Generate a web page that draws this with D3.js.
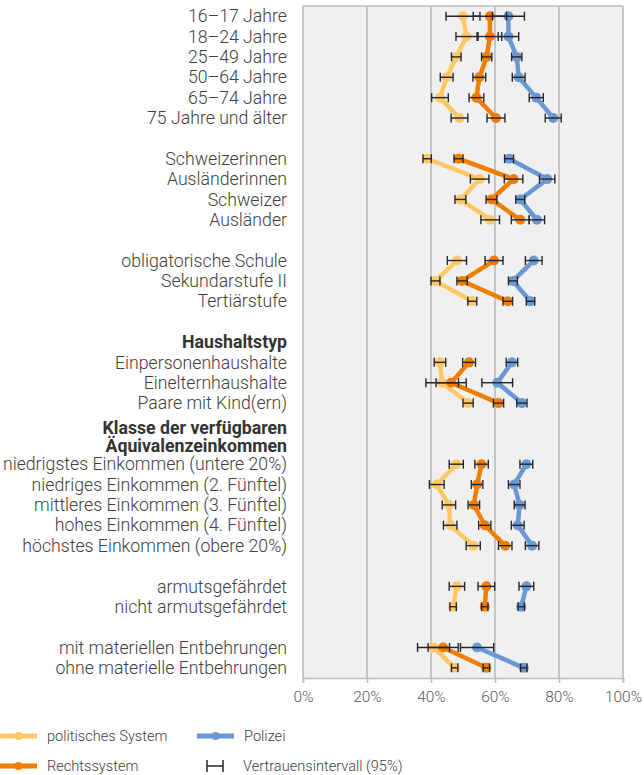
<!DOCTYPE html>
<html><head><meta charset="utf-8">
<script src="https://cdn.jsdelivr.net/npm/d3@7"></script>
<style>
body{margin:0;background:#fff;}
text{font-family:Roboto,"Noto Sans",sans-serif;}
</style></head>
<body><svg id="c" width="644" height="775"></svg>
<script>
// ---- data ----
const categories = [
 "16–17 Jahre","18–24 Jahre","25–49 Jahre","50–64 Jahre","65–74 Jahre","75 Jahre und älter","",
 "Schweizerinnen","Ausländerinnen","Schweizer","Ausländer","",
 "obligatorische Schule","Sekundarstufe II","Tertiärstufe","",
 "#Haushaltstyp","Einpersonenhaushalte","Einelternhaushalte","Paare mit Kind(ern)",
 "#Klasse der verfügbaren|Äquivalenzeinkommen","",
 "niedrigstes Einkommen (untere 20%)","niedriges Einkommen (2. Fünftel)","mittleres Einkommen (3. Fünftel)","hohes Einkommen (4. Fünftel)","höchstes Einkommen (obere 20%)","",
 "armutsgefährdet","nicht armutsgefährdet","",
 "mit materiellen Entbehrungen","ohne materielle Entbehrungen"];
const politischesSystem = [50.0,51.1,47.9,44.9,42.8,48.9,null, 38.8,55.2,49.2,58.5,null, 48.1,41.4,52.9,null, null,42.8,43.5,51.6, null,null, 47.9,41.8,45.6,46.0,53.2,null, 48.1,46.9,null, 40.8,47.4];
const politischesCI     = [5.3,3.3,1.5,2.0,2.6,2.6,null, 1.3,2.9,1.7,2.9,null, 3.0,1.4,1.4,null, null,1.8,5.1,1.6, null,null, 2.2,2.3,2.1,2.1,2.2,null, 2.4,1.0,null, 5.0,1.0];
const rechtssystem      = [58.4,58.4,57.4,55.1,54.2,60.3,null, 48.6,65.8,58.9,67.9,null, 59.7,49.7,64.0,null, null,51.9,46.3,61.1, null,null, 55.8,54.4,53.4,56.8,63.2,null, 57.3,56.8,null, 43.8,57.3];
const rechtssystemCI    = [5.2,3.7,1.6,2.0,2.3,2.8,null, 1.4,2.9,1.7,2.8,null, 2.8,1.6,1.5,null, null,2.0,4.7,1.6, null,null, 2.1,1.8,1.8,1.9,2.1,null, 2.6,1.0,null, 4.7,1.0];
const polizei           = [64.2,64.2,66.8,67.4,72.9,78.2,null, 64.4,76.3,67.9,73.1,null, 72.1,65.6,71.1,null, null,65.3,60.7,68.4, null,null, 69.8,66.0,67.7,67.1,71.6,null, 69.8,68.2,null, 54.4,69.0];
const polizeiCI         = [5.0,3.2,1.6,2.0,2.2,2.5,null, 1.4,2.4,1.4,2.4,null, 2.6,1.4,1.3,null, null,1.8,4.8,1.6, null,null, 2.0,1.8,1.7,2.0,2.1,null, 2.3,1.0,null, 5.2,1.0];
const xTicks = [0,20,40,60,80,100];
const seriesNames = ["politisches System","Rechtssystem","Polizei"];
const seriesColors = ["#FFC866","#EF7D00","#6A98D3"];
const ciLabel = "Vertrauensintervall (95%)";

// ---- chart ----
const svg = d3.select("#c");
const m = {left:303, right:623, top:6, bottom:678};
const x = d3.scaleLinear().domain([0,100]).range([m.left, m.right]);
const rowKeys = categories.map((c,i)=>i);
const y = d3.scaleBand().domain(rowKeys).range([m.top, m.bottom]);
const yc = i => y(i) + y.bandwidth()/2;
const LABEL_FS = 17.7;
const LEG_FS = 14.6;

svg.append("rect").attr("x",m.left).attr("y",m.top).attr("width",m.right-m.left).attr("height",m.bottom-m.top).attr("fill","#F0F0F0");
svg.append("g").selectAll("line").data(xTicks).join("line")
  .attr("x1",d=>x(d)).attr("x2",d=>x(d)).attr("y1",m.top).attr("y2",m.bottom)
  .attr("stroke","#BBBBBB").attr("stroke-width",1.6);
svg.append("line").attr("x1",m.left).attr("x2",m.right).attr("y1",m.top).attr("y2",m.top).attr("stroke","#BBBBBB").attr("stroke-width",1.6);

const xAxis = svg.append("g").attr("transform",`translate(0,${m.bottom})`)
  .call(d3.axisBottom(x).tickValues(xTicks).tickFormat(d=>d+"%").tickSize(5).tickPadding(8));
xAxis.select(".domain").attr("stroke","#BBBBBB").attr("stroke-width",1.6);
xAxis.selectAll(".tick line").attr("stroke","#BBBBBB").attr("stroke-width",1.6);
xAxis.selectAll("text").attr("font-size",15.5).attr("fill","#595959").attr("font-weight",300).attr("font-family","Roboto");

// labels
const lab = svg.append("g");
categories.forEach((c,i)=>{
  if(!c) return;
  if(c[0]==="#"){
    const lines = c.slice(1).split("|");
    const t = lab.append("text").attr("x",287).attr("text-anchor","end")
        .attr("font-size",LABEL_FS).attr("font-weight",700).attr("fill","#333");
    if(lines.length===1){
      t.attr("y",yc(i)).attr("dy","0.35em").text(lines[0]);
    } else {
      t.attr("y",yc(i)+4.5);
      lines.forEach((s,k)=>{
        t.append("tspan").attr("x",287).attr("dy",k===0?"0.35em":"18").text(s);
      });
    }
  } else {
    lab.append("text").attr("x",287).attr("y",yc(i)).attr("dy","0.35em").attr("text-anchor","end")
      .attr("font-size",LABEL_FS).attr("font-weight",300).attr("fill","#404040").text(c);
  }
});

const series = [
  {vals:politischesSystem, ci:politischesCI},
  {vals:rechtssystem, ci:rechtssystemCI},
  {vals:polizei, ci:polizeiCI}];

const line = d3.line().defined(d=>d.v!=null).x(d=>x(d.v)).y(d=>yc(d.i));
series.forEach((s,k)=>{
  const pts = s.vals.map((v,i)=>({v,i}));
  svg.append("path").datum(pts).attr("d",line).attr("fill","none")
    .attr("stroke",seriesColors[k]).attr("stroke-width",4.5).attr("stroke-linejoin","round");
  svg.append("g").selectAll("circle").data(pts.filter(d=>d.v!=null)).join("circle")
    .attr("cx",d=>x(d.v)).attr("cy",d=>yc(d.i)).attr("r",5).attr("fill",seriesColors[k]);
});
// error bars
const eb = svg.append("g").attr("stroke","#262626").attr("stroke-width",1.4).attr("fill","none");
series.forEach(s=>{
  s.vals.forEach((v,i)=>{
    if(v==null) return;
    const lo = x(v - s.ci[i]), hi = x(v + s.ci[i]), cy = yc(i);
    eb.append("line").attr("x1",lo).attr("x2",hi).attr("y1",cy).attr("y2",cy);
    eb.append("line").attr("x1",lo).attr("x2",lo).attr("y1",cy-4.5).attr("y2",cy+4.5);
    eb.append("line").attr("x1",hi).attr("x2",hi).attr("y1",cy-4.5).attr("y2",cy+4.5);
  });
});

// legend
const leg = svg.append("g");
const legItems = [
  {name:seriesNames[0], col:seriesColors[0], lx:0, ly:736},
  {name:seriesNames[2], col:seriesColors[2], lx:197, ly:736},
  {name:seriesNames[1], col:seriesColors[1], lx:0, ly:766}];
legItems.forEach(d=>{
  leg.append("line").attr("x1",d.lx).attr("x2",d.lx+37).attr("y1",d.ly).attr("y2",d.ly).attr("stroke",d.col).attr("stroke-width",5);
  leg.append("circle").attr("cx",d.lx+18.5).attr("cy",d.ly).attr("r",4).attr("fill",d.col);
  leg.append("text").attr("x",d.lx+47).attr("y",d.ly).attr("dy","0.35em").attr("font-size",LEG_FS).attr("font-weight",300).attr("fill","#404040").text(d.name);
});
const cig = leg.append("g").attr("stroke","#262626").attr("stroke-width",1.5);
cig.append("line").attr("x1",207).attr("x2",223).attr("y1",766).attr("y2",766);
cig.append("line").attr("x1",207).attr("x2",207).attr("y1",760).attr("y2",772);
cig.append("line").attr("x1",223).attr("x2",223).attr("y1",760).attr("y2",772);
leg.append("text").attr("x",243).attr("y",766).attr("dy","0.35em").attr("font-size",LEG_FS).attr("font-weight",300).attr("fill","#404040").text(ciLabel);
</script></body></html>
